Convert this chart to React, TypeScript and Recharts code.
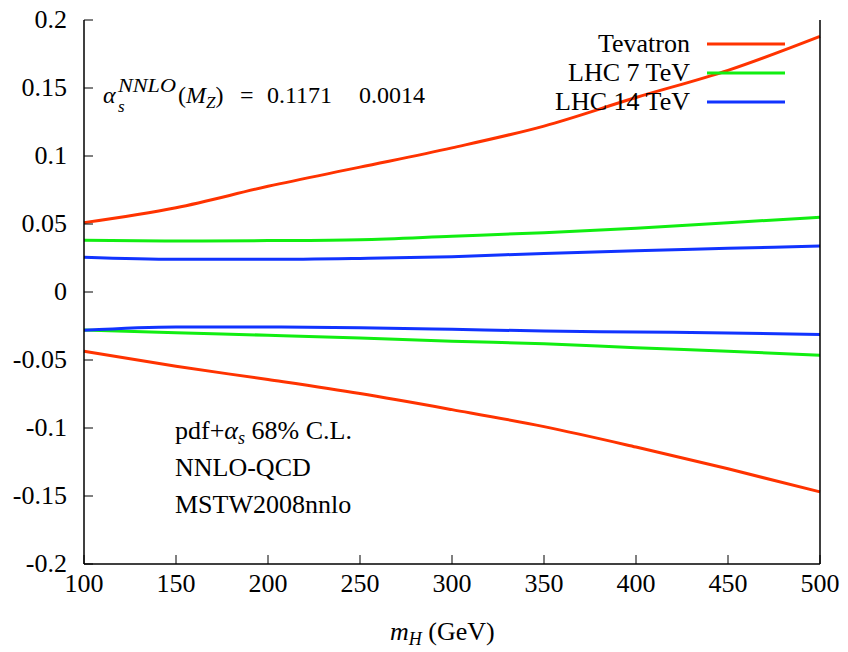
import React from 'react';
import { LineChart, Line, XAxis, YAxis, Legend } from 'recharts';

// Higgs mass (GeV)
const mH = [100, 150, 200, 250, 300, 350, 400, 450, 500];

// relative pdf+alpha_s uncertainty bands (upper / lower edge)
const tevatronUp = [0.051, 0.062, 0.0777, 0.0918, 0.106, 0.122, 0.143, 0.163, 0.188];
const tevatronDown = [-0.0436, -0.0546, -0.0644, -0.0747, -0.0865, -0.099, -0.114, -0.13, -0.147];
const lhc7Up = [0.038, 0.0375, 0.0378, 0.0385, 0.041, 0.0436, 0.0468, 0.051, 0.0549];
const lhc7Down = [-0.028, -0.03, -0.0318, -0.0338, -0.0362, -0.038, -0.041, -0.0436, -0.0465];
const lhc14Up = [0.0255, 0.024, 0.024, 0.0247, 0.026, 0.0284, 0.0304, 0.0321, 0.0338];
const lhc14Down = [-0.0282, -0.0257, -0.0257, -0.0262, -0.0274, -0.0287, -0.0294, -0.0301, -0.0313];

const seriesNames = ['Tevatron', 'LHC 7 TeV', 'LHC 14 TeV'];
const xTicks = [100, 150, 200, 250, 300, 350, 400, 450, 500];
const yTicks = [-0.2, -0.15, -0.1, -0.05, 0, 0.05, 0.1, 0.15, 0.2];

const RED = '#ff3300';
const GREEN = '#11ee11';
const BLUE = '#1133ff';
const FONT = 'Liberation Serif, DejaVu Serif, serif';

const data = mH.map((m, i) => ({
    mH: m,
    tevUp: tevatronUp[i],
    tevDown: tevatronDown[i],
    lhc7Up: lhc7Up[i],
    lhc7Down: lhc7Down[i],
    lhc14Up: lhc14Up[i],
    lhc14Down: lhc14Down[i],
}));

const fmtY = (v: number) => String(Number(v.toFixed(2)));
const labelStyle = { fontFamily: FONT, fontSize: 26 };

const XTick = (props: any) => (
    <text x={props.x} y={props.y} dy={18} textAnchor="middle" fill="#000" style={labelStyle}>
        {props.payload.value}
    </text>
);

const YTick = (props: any) => (
    <text x={props.x} y={props.y} dy={8} textAnchor="end" fill="#000" style={labelStyle}>
        {fmtY(props.payload.value)}
    </text>
);

const blank = () => <g />;

function renderLegend(props: any) {
    const items = (props.payload || [])
        .filter((p: any) => seriesNames.includes(p.value))
        .sort((a: any, b: any) => seriesNames.indexOf(a.value) - seriesNames.indexOf(b.value));
    return (
        <div style={{ fontFamily: FONT, fontSize: 26, color: '#000' }}>
            {items.map((p: any) => (
                <div
                    key={p.value}
                    style={{
                        display: 'flex',
                        alignItems: 'center',
                        justifyContent: 'flex-end',
                        height: 29,
                        width: 785,
                    }}
                >
                    <span style={{ lineHeight: '29px' }}>{p.value}</span>
                    <svg width={78} height={6} style={{ marginLeft: 17 }}>
                        <line x1={0} y1={3} x2={78} y2={3} stroke={p.color} strokeWidth={3} />
                    </svg>
                </div>
            ))}
        </div>
    );
}

export default function App() {
    return (
        <div style={{ position: 'absolute', left: 0, top: 0, width: 848, height: 652, background: '#fff' }}>
            <LineChart
                width={848}
                height={652}
                data={data}
                margin={{ top: 20, right: 0, bottom: 0, left: 0 }}
                style={{ fontFamily: FONT }}
            >
                <XAxis
                    dataKey="mH"
                    type="number"
                    domain={[100, 500]}
                    ticks={xTicks}
                    height={88}
                    tickSize={-9}
                    tickMargin={19}
                    tick={XTick}
                    axisLine={{ stroke: '#000', strokeWidth: 1.5 }}
                    tickLine={{ stroke: '#000' }}
                />
                <XAxis
                    xAxisId="top"
                    orientation="top"
                    dataKey="mH"
                    type="number"
                    domain={[100, 500]}
                    ticks={xTicks}
                    height={0}
                    tickSize={-9}
                    tick={blank}
                    axisLine={{ stroke: '#000', strokeWidth: 1.5 }}
                    tickLine={{ stroke: '#000' }}
                />
                <YAxis
                    type="number"
                    domain={[-0.2, 0.2]}
                    ticks={yTicks}
                    width={84}
                    tickSize={-9}
                    tickMargin={26}
                    tick={YTick}
                    axisLine={{ stroke: '#000', strokeWidth: 1.5 }}
                    tickLine={{ stroke: '#000' }}
                />
                <YAxis
                    yAxisId="right"
                    orientation="right"
                    type="number"
                    domain={[-0.2, 0.2]}
                    ticks={yTicks}
                    width={28}
                    tickSize={-9}
                    tick={blank}
                    axisLine={{ stroke: '#000', strokeWidth: 1.5 }}
                    tickLine={{ stroke: '#000' }}
                />
                <Legend
                    layout="vertical"
                    align="center"
                    verticalAlign="middle"
                    content={renderLegend}
                    wrapperStyle={{ left: 0, top: 29, width: 848, height: 90 }}
                />
                <Line dataKey="tevUp" name="Tevatron" type="monotone" stroke={RED} strokeWidth={3} dot={false} isAnimationActive={false} />
                <Line dataKey="lhc7Up" name="LHC 7 TeV" type="monotone" stroke={GREEN} strokeWidth={3} dot={false} isAnimationActive={false} />
                <Line dataKey="lhc14Up" name="LHC 14 TeV" type="monotone" stroke={BLUE} strokeWidth={3} dot={false} isAnimationActive={false} />
                <Line dataKey="tevDown" legendType="none" type="monotone" stroke={RED} strokeWidth={3} dot={false} isAnimationActive={false} />
                <Line dataKey="lhc7Down" legendType="none" type="monotone" stroke={GREEN} strokeWidth={3} dot={false} isAnimationActive={false} />
                <Line dataKey="lhc14Down" legendType="none" type="monotone" stroke={BLUE} strokeWidth={3} dot={false} isAnimationActive={false} />
            </LineChart>

            <svg
                width={848}
                height={652}
                style={{ position: 'absolute', left: 0, top: 0, pointerEvents: 'none', fontFamily: FONT }}
            >
                <text x={103} y={103} fontSize={24} fontStyle="italic">α</text>
                <text x={118} y={92} fontSize={18} fontStyle="italic" textLength={58} lengthAdjust="spacingAndGlyphs">NNLO</text>
                <text x={118} y={112} fontSize={17} fontStyle="italic">s</text>
                <text x={178} y={103} fontSize={24}>
                    (<tspan fontStyle="italic">M</tspan>
                    <tspan fontSize={17} fontStyle="italic" dy={5}>Z</tspan>
                    <tspan dy={-5}>)</tspan>
                </text>
                <text x={240} y={103} fontSize={24}>=</text>
                <text x={267} y={103} fontSize={24}>0.1171</text>
                <text x={359} y={103} fontSize={24}>0.0014</text>

                <text x={175} y={439} fontSize={26}>
                    pdf+<tspan fontStyle="italic">α</tspan>
                    <tspan fontSize={18} fontStyle="italic" dy={5}>s</tspan>
                    <tspan dy={-5}> 68% C.L.</tspan>
                </text>
                <text x={175} y={476} fontSize={26}>NNLO-QCD</text>
                <text x={175} y={513} fontSize={26}>MSTW2008nnlo</text>

                <text x={390} y={640} fontSize={26}>
                    <tspan fontStyle="italic">m</tspan>
                    <tspan fontSize={18} fontStyle="italic" dy={5}>H</tspan>
                    <tspan dy={-5}> (GeV)</tspan>
                </text>
            </svg>
        </div>
    );
}
